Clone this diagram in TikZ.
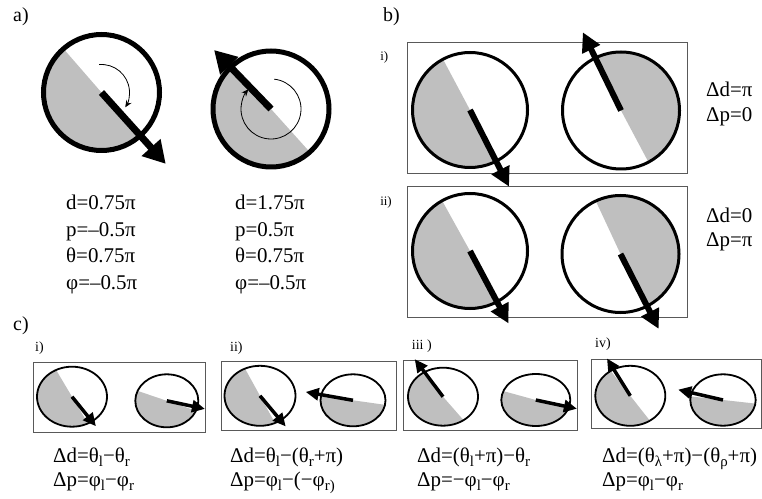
\documentclass[tikz,border=0pt]{standalone}
\usepackage{fontspec}
\setmainfont{Liberation Serif}
\usetikzlibrary{arrows.meta}
\definecolor{shade}{gray}{0.75}
\newcommand{\lo}[1]{\raisebox{-4bp}{\fontsize{15}{15}\selectfont #1}}

\begin{document}
\begin{tikzpicture}[
    x=1bp, y=1bp,
    half/.style={fill=shade},
    rimA/.style={draw=black, line width=5bp},
    rimB/.style={draw=black, line width=3bp},
    rimC/.style={draw=black, line width=1.8bp},
    ptrA/.style={-{Triangle[length=22bp, width=24bp]}, line width=7bp},
    ptrB/.style={-{Triangle[length=19bp, width=19bp]}, line width=6bp},
    ptrC/.style={-{Triangle[length=13bp, width=12bp]}, line width=3.5bp},
    turn/.style={-{Stealth[length=7bp, width=6bp]}, line width=0.8bp},
    frame/.style={draw=black!65, line width=0.9bp},
    val/.style={anchor=base west, inner sep=0pt, font=\fontsize{21}{24}\selectfont},
    tag/.style={anchor=base west, inner sep=0pt, font=\fontsize{20}{24}\selectfont},
    sub/.style={anchor=base west, inner sep=0pt, font=\fontsize{14}{16}\selectfont}
]
\useasboundingbox (0,0) rectangle (762,-499);

% a) two discs with turn arrows
\node[tag] (la) at (13,-21.5) {a)};

\coordinate (a1) at (101.5,-92.5);
\fill[half] (a1) -- ++(131:58) arc[start angle=131, end angle=311, radius=58] -- cycle;
\draw[rimA] (a1) circle[radius=58];
\draw[turn] (a1) ++(95:28) arc[start angle=95, end angle=-32, radius=28];
\draw[ptrA] (a1) -- ++(-48:96);

\coordinate (a2) at (271,-109);
\fill[half] (a2) -- ++(132:58) arc[start angle=132, end angle=312, radius=58] -- cycle;
\draw[rimA] (a2) circle[radius=58];
\draw[turn] (a2) ++(84:30) arc[start angle=84, end angle=-221, radius=30];
\draw[ptrA] (a2) -- ++(134:82);

\node[val] (d1) at (66,-210) {d=0.75π};
\node[val] (p1) at (66,-236.5) {p=–0.5π};
\node[val] (t1) at (66,-263) {θ=0.75π};
\node[val] (f1) at (66,-289.5) {φ=–0.5π};
\node[val] (d2) at (235,-210) {d=1.75π};
\node[val] (p2) at (235,-236.5) {p=0.5π};
\node[val] (t2) at (235,-263) {θ=0.75π};
\node[val] (f2) at (235,-289.5) {φ=–0.5π};

% b) pairs in frames
\node[tag] (lb) at (383,-21.5) {b)};
\draw[frame] (407,-42.5) rectangle (687,-173.5);
\draw[frame] (407,-186) rectangle (687,-317);
\node[sub, anchor=base east, font=\fontsize{13}{15}\selectfont] (bi) at (388.5,-61) {i)};
\node[sub, anchor=base east, font=\fontsize{13}{15}\selectfont] (bii) at (392,-206) {ii)};

\coordinate (b1) at (470,-110);
\fill[half] (b1) -- ++(118:57.5) arc[start angle=118, end angle=298, radius=57.5] -- cycle;
\draw[rimB] (b1) circle[radius=57.5];
\draw[ptrB] (b1) -- ++(-63:86);

\coordinate (b2) at (621,-110.5);
\fill[half] (b2) -- ++(-62:58.5) arc[start angle=-62, end angle=118, radius=58.5] -- cycle;
\draw[rimB] (b2) circle[radius=58.5];
\draw[ptrB] (b2) -- ++(116:87);

\coordinate (b3) at (470,-251);
\fill[half] (b3) -- ++(119:57.5) arc[start angle=119, end angle=299, radius=57.5] -- cycle;
\draw[rimB] (b3) circle[radius=57.5];
\draw[ptrB] (b3) -- ++(-62:82);

\coordinate (b4) at (620.5,-254);
\fill[half] (b4) -- ++(-65:58.5) arc[start angle=-65, end angle=115, radius=58.5] -- cycle;
\draw[rimB] (b4) circle[radius=58.5];
\draw[ptrB] (b4) -- ++(-63:84);

\node[val] (bd1) at (706,-97) {Δd=π};
\node[val] (bp1) at (706,-122) {Δp=0};
\node[val] (bd2) at (706,-223) {Δd=0};
\node[val] (bp2) at (706,-247) {Δp=π};

% c) four small frames
\node[tag] (lc) at (13,-330) {c)};
\draw[frame] (33,-362) rectangle (205,-432);
\draw[frame] (221.7,-361.7) rectangle (396.7,-430);
\draw[frame] (403.3,-360) rectangle (577.3,-430);
\draw[frame] (591.7,-359.3) rectangle (761,-428.3);
\node[sub] (ci) at (35,-351) {i)};
\node[sub] (cii) at (230,-351) {ii)};
\node[sub] (ciii) at (411.7,-349) {iii )};
\node[sub] (civ) at (595,-347) {iv)};

\coordinate (c1) at (72,-396.7);
\fill[half] (c1) -- ++({35*cos(117)},{30*sin(117)}) arc[start angle=117, end angle=297, x radius=35, y radius=30] -- cycle;
\draw[rimC] (c1) ellipse[x radius=35, y radius=30];
\draw[ptrC] (c1) -- ++(-51:38);

\coordinate (c2) at (166.8,-400.8);
\fill[half] (c2) -- ++({31.5*cos(158)},{26.5*sin(158)}) arc[start angle=158, end angle=338, x radius=31.5, y radius=26.5] -- cycle;
\draw[rimC] (c2) ellipse[x radius=31.5, y radius=26.5];
\draw[ptrC] (c2) -- ++(-12:39);

\coordinate (c3) at (260,-395.8);
\fill[half] (c3) -- ++({35.5*cos(115)},{30*sin(115)}) arc[start angle=115, end angle=295, x radius=35.5, y radius=30] -- cycle;
\draw[rimC] (c3) ellipse[x radius=35.5, y radius=30];
\draw[ptrC] (c3) -- ++(-50:40);

\coordinate (c4) at (353,-400.3);
\fill[half] (c4) -- ++({32.5*cos(170)},{26*sin(170)}) arc[start angle=170, end angle=350, x radius=32.5, y radius=26] -- cycle;
\draw[rimC] (c4) ellipse[x radius=32.5, y radius=26];
\draw[ptrC] (c4) -- ++(170:48);

\coordinate (c5) at (443,-396.7);
\fill[half] (c5) -- ++({35*cos(126)},{29*sin(126)}) arc[start angle=126, end angle=306, x radius=35, y radius=29] -- cycle;
\draw[rimC] (c5) ellipse[x radius=35, y radius=29];
\draw[ptrC] (c5) -- ++(127:47);

\coordinate (c6) at (535.8,-400);
\fill[half] (c6) -- ++({34.5*cos(160)},{26*sin(160)}) arc[start angle=160, end angle=340, x radius=34.5, y radius=26] -- cycle;
\draw[rimC] (c6) ellipse[x radius=34.5, y radius=26];
\draw[ptrC] (c6) -- ++(-12:42);

\coordinate (c7) at (630.3,-395.8);
\fill[half] (c7) -- ++({35*cos(124)},{30*sin(124)}) arc[start angle=124, end angle=304, x radius=35, y radius=30] -- cycle;
\draw[rimC] (c7) ellipse[x radius=35, y radius=30];
\draw[ptrC] (c7) -- ++(122:44);

\coordinate (c8) at (723,-400);
\fill[half] (c8) -- ++({32.7*cos(172)},{25.7*sin(172)}) arc[start angle=172, end angle=352, x radius=32.7, y radius=25.7] -- cycle;
\draw[rimC] (c8) ellipse[x radius=32.7, y radius=25.7];
\draw[ptrC] (c8) -- ++(167:46);

\node[val] (cd1) at (53,-462) {Δd=θ\lo{l}−θ\lo{r}};
\node[val] (cp1) at (53,-486) {Δp=φ\lo{l}−φ\lo{r}};
\node[val] (cd2) at (230,-462) {Δd=θ\lo{l}−(θ\lo{r}+π)};
\node[val] (cp2) at (230,-486) {Δp=φ\lo{l}−(−φ\lo{r)}};
\node[val] (cd3) at (417,-462) {Δd=(θ\lo{l}+π)−θ\lo{r}};
\node[val] (cp3) at (417,-486) {Δp=−φ\lo{l}−φ\lo{r}};
\node[val] (cd4) at (602,-462) {Δd=(θ\lo{λ}+π)−(θ\lo{ρ}+π)};
\node[val] (cp4) at (602,-486) {Δp=φ\lo{l}−φ\lo{r}};
\end{tikzpicture}
\end{document}
